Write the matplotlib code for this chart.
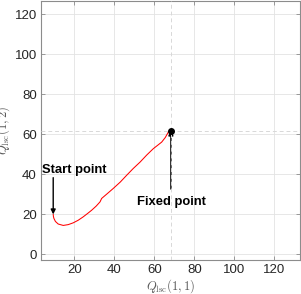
import matplotlib
matplotlib.use("Agg")
import matplotlib.pyplot as plt
import numpy as np

plt.rcParams['font.family'] = ['Liberation Sans', 'DejaVu Sans']
plt.rcParams['mathtext.fontset'] = 'cm'

# trajectory
traj_x = [9.5, 9.6, 9.85, 10.6, 12.0, 14.5, 17.0, 19.5, 22.0, 24.5, 26.7, 28.7, 31.0, 32.9, 33.7, 36.5,
          39.5, 43.0, 46.2, 49.5, 52.9, 56.2, 59.5, 61.8, 63.7, 65.5, 67.0, 68.3]
traj_y = [19.8, 18.8, 17.8, 16.3, 15.0, 14.3, 14.7, 15.6, 16.9, 18.6, 20.3, 21.9, 24.0, 26.1, 27.8, 30.2,
          32.8, 36.0, 39.4, 42.8, 46.0, 49.5, 52.7, 54.5, 56.0, 58.3, 61.0, 61.8]
fixed_pt = (68.3, 61.8)
start_pt = (9.5, 19.8)

xticks = [20, 40, 60, 80, 100, 120]
yticks = [0, 20, 40, 60, 80, 100, 120]

fig = plt.figure(figsize=(3.01, 2.94), dpi=100)
ax = fig.add_axes([41/301, 34/294, 259/301, 259/294])

ax.set_xlim(3.4, 132.8)
ax.set_ylim(-3.0, 126.6)

ax.grid(True, color='#e3e3e3', linewidth=0.6)
ax.set_axisbelow(True)

ax.plot(traj_x, traj_y, color='red', linewidth=0.75, zorder=3)

ax.annotate('', xy=fixed_pt, xytext=(fixed_pt[0], 32.5),
            arrowprops=dict(arrowstyle='-|>', color='black', lw=1.0, mutation_scale=7,
                            shrinkA=0, shrinkB=0), zorder=4)
ax.annotate('', xy=start_pt, xytext=(start_pt[0], 38.2),
            arrowprops=dict(arrowstyle='-|>', color='black', lw=1.0, mutation_scale=7,
                            shrinkA=0, shrinkB=0), zorder=4)

ax.axhline(fixed_pt[1], color='#d8d8d8', linestyle=(0, (4, 3)), linewidth=0.7, zorder=5)
ax.axvline(fixed_pt[0], color='#d8d8d8', linestyle=(0, (4, 3)), linewidth=0.7, zorder=5)

ax.plot([fixed_pt[0]], [fixed_pt[1]], 'o', color='black', markersize=4, zorder=6)

ax.text(20.0, 41.9, 'Start point', fontsize=9.4, fontweight='bold', ha='center', va='center', color='black')
ax.text(68.5, 26.0, 'Fixed point', fontsize=9.4, fontweight='bold', ha='center', va='center', color='black')

ax.set_xticks(xticks)
ax.set_yticks(yticks)
ax.tick_params(direction='in', length=3, width=0.6, color='#8c8c8c', labelsize=9.5,
               labelcolor='#262626', top=True, right=True, pad=3)
for s in ax.spines.values():
    s.set_color('#8c8c8c')
    s.set_linewidth(0.8)

ax.set_xlabel(r'$Q_{\rm lsc}(1,1)$', fontsize=9, color='#5a5a5a', labelpad=1)
ax.set_ylabel(r'$Q_{\rm lsc}(1,2)$', fontsize=9, color='#5a5a5a', labelpad=2)

fig.savefig('out.png', dpi=100)
